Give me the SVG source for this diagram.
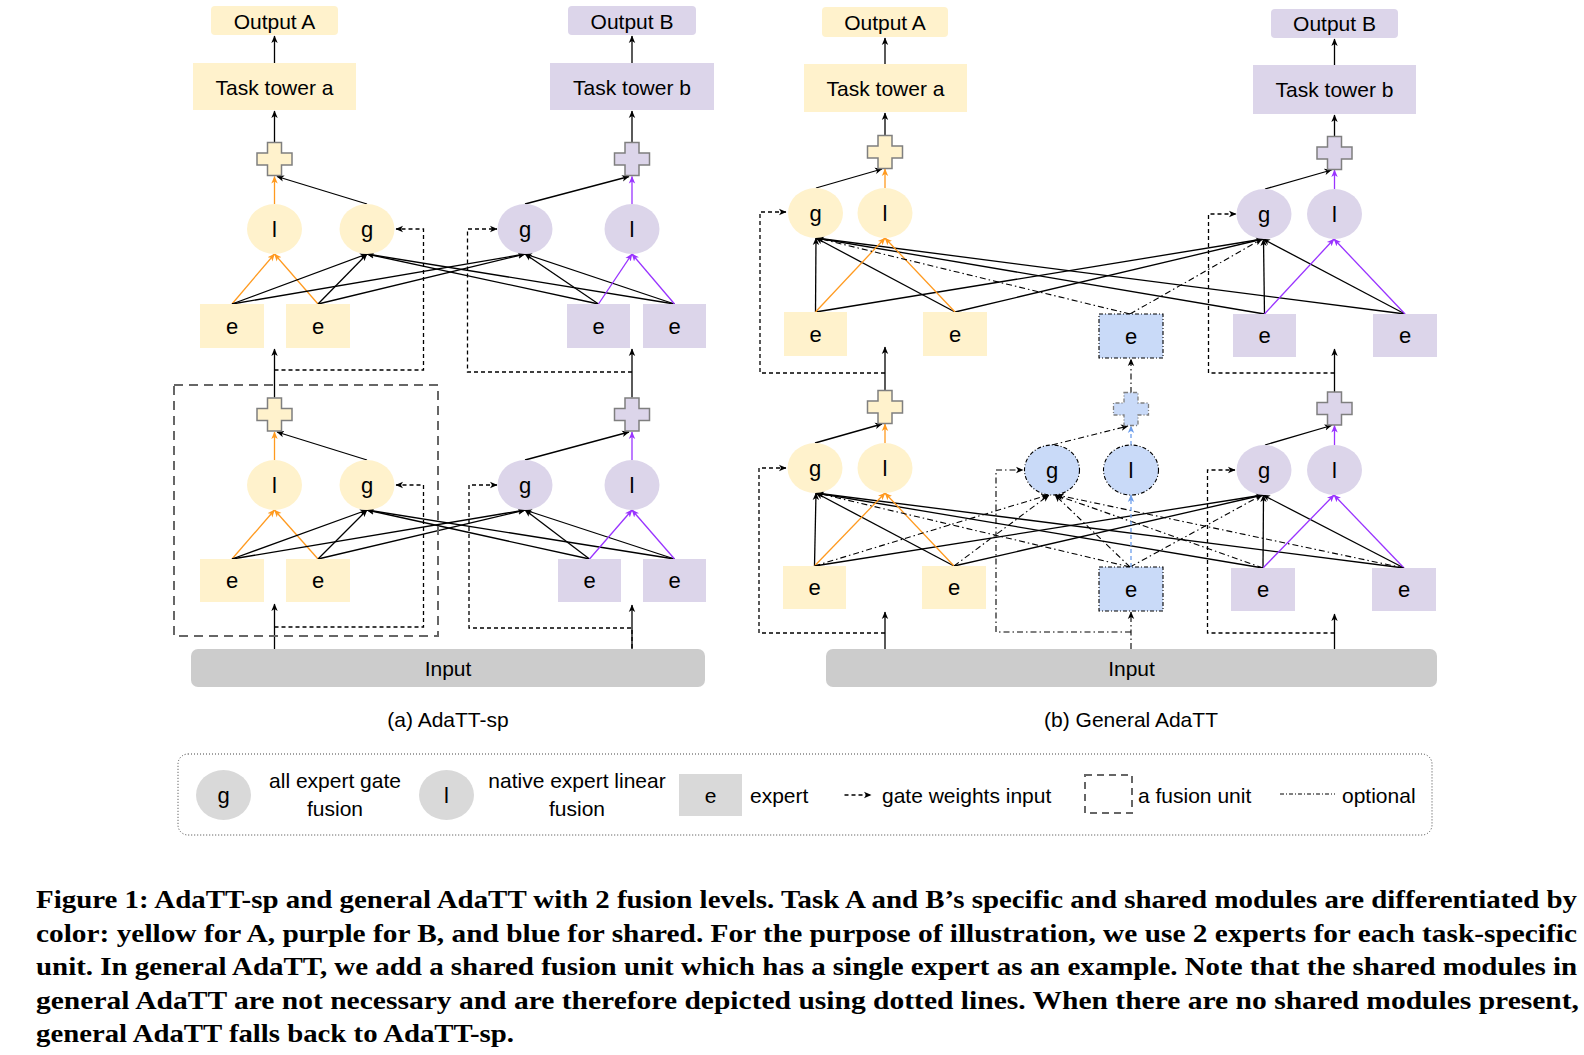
<svg xmlns="http://www.w3.org/2000/svg" xmlns:xlink="http://www.w3.org/1999/xlink" width="1584" height="1055" viewBox="0 0 1584 1055">
<defs>
<style>
.y{fill:#fff2cc}.p{fill:#dcd5ea}.b{fill:#c9daf8}.gi{fill:#cccccc}.lg{fill:#d9d9d9}
.pl{stroke:#7f7f7f;stroke-width:1.5}
.pls{stroke:#7f7f7f;stroke-width:1.3;stroke-dasharray:4 2 1 2}
.sd{stroke:#000;stroke-width:1.1;stroke-dasharray:4 2 1 2}
.t{font-family:"Liberation Sans",Arial,sans-serif;font-size:21px;fill:#000;text-anchor:middle;dominant-baseline:central}
.ts{font-family:"Liberation Sans",Arial,sans-serif;font-size:21px;fill:#000;text-anchor:start;dominant-baseline:central}
.tb{font-family:"Liberation Sans",Arial,sans-serif;font-size:22px;fill:#000;text-anchor:middle;dominant-baseline:central}
.cap{font-family:"Liberation Serif","Times New Roman",serif;font-size:25px;font-weight:bold;fill:#000}
#conn path{fill:none}
.k{stroke:#000;stroke-width:1.3;marker-end:url(#ak)}
.o{stroke:#ff9a1f;stroke-width:1.3;marker-end:url(#ao)}
.v{stroke:#9933ff;stroke-width:1.3;marker-end:url(#av)}
.d{stroke:#000;stroke-width:1.3;stroke-dasharray:4 3;marker-end:url(#ak)}
.dd{stroke:#000;stroke-width:1.1;stroke-dasharray:6 3 1.5 3;marker-end:url(#ak)}
.bd{stroke:#6d9eeb;stroke-width:1.3;stroke-dasharray:4 3;marker-end:url(#ab)}
</style>
<marker id="ak" viewBox="0 0 8 8" refX="7" refY="4" markerWidth="8" markerHeight="8" markerUnits="userSpaceOnUse" orient="auto"><path d="M0,0.8 L7.5,4 L0,7.2 L2,4 z" fill="#000"/></marker>
<marker id="ao" viewBox="0 0 8 8" refX="7" refY="4" markerWidth="8" markerHeight="8" markerUnits="userSpaceOnUse" orient="auto"><path d="M0,0.8 L7.5,4 L0,7.2 L2,4 z" fill="#ff9a1f"/></marker>
<marker id="av" viewBox="0 0 8 8" refX="7" refY="4" markerWidth="8" markerHeight="8" markerUnits="userSpaceOnUse" orient="auto"><path d="M0,0.8 L7.5,4 L0,7.2 L2,4 z" fill="#9933ff"/></marker>
<marker id="ab" viewBox="0 0 8 8" refX="7" refY="4" markerWidth="8" markerHeight="8" markerUnits="userSpaceOnUse" orient="auto"><path d="M0,0.8 L7.5,4 L0,7.2 L2,4 z" fill="#6d9eeb"/></marker>
<path id="plus" d="M-7,-16.5 H7 V-6 H17.5 V6 H7 V16.5 H-7 V6 H-17.5 V-6 H-7 Z"/>
</defs>
<rect width="1584" height="1055" fill="#fff"/>

<!-- ===== connectors ===== -->
<g id="conn">
<!-- panel a, upper level -->
<path class="k" d="M274.5,63 V36"/>
<path class="k" d="M274.5,142.5 V111"/>
<path class="o" d="M274.5,204 V176.5"/>
<path class="k" d="M367,204 L277,176.5"/>
<path class="o" d="M232,304 L274.5,254"/>
<path class="o" d="M318,304 L274.5,254"/>
<path class="k" d="M232,304 L367,254"/>
<path class="k" d="M318,304 L367,254"/>
<path class="k" d="M232,304 L525,254"/>
<path class="k" d="M318,304 L525,254"/>
<path class="k" d="M598.5,304 L525,254"/>
<path class="k" d="M674.5,304 L525,254"/>
<path class="k" d="M598.5,304 L367,254"/>
<path class="k" d="M674.5,304 L367,254"/>
<path class="v" d="M598.5,304 L632,254"/>
<path class="v" d="M674.5,304 L632,254"/>
<path class="k" d="M525,204 L629,176.5"/>
<path class="v" d="M632,204 V176.5"/>
<path class="k" d="M632,142.5 V111"/>
<path class="k" d="M632,63 V36"/>
<!-- panel a, between levels -->
<path class="k" d="M274.5,397.5 V349"/>
<path class="k" d="M632,397.5 V349"/>
<path class="d" d="M274.5,370 H423.5 V229 H396"/>
<path class="d" d="M632,372 H467.5 V229 H497"/>
<!-- panel a, lower level -->
<path class="o" d="M274.5,460 V432"/>
<path class="k" d="M367,460 L277,432"/>
<path class="o" d="M232,559 L274.5,510"/>
<path class="o" d="M318,559 L274.5,510"/>
<path class="k" d="M232,559 L367,510"/>
<path class="k" d="M318,559 L367,510"/>
<path class="k" d="M232,559 L525,510"/>
<path class="k" d="M318,559 L525,510"/>
<path class="k" d="M589.5,559 L525,510"/>
<path class="k" d="M674.5,559 L525,510"/>
<path class="k" d="M589.5,559 L367,510"/>
<path class="k" d="M674.5,559 L367,510"/>
<path class="v" d="M589.5,559 L632,510"/>
<path class="v" d="M674.5,559 L632,510"/>
<path class="k" d="M525,460 L629,432"/>
<path class="v" d="M632,460 V432"/>
<path class="k" d="M274.5,649 V604"/>
<path class="k" d="M632,649 V605"/>
<path class="d" d="M274.5,627 H423.5 V485 H396"/>
<path class="d" d="M632,648 V628 H469 V485 H497"/>

<!-- panel b, upper level -->
<path class="k" d="M885,64 V38"/>
<path class="k" d="M885,135.5 V113"/>
<path class="k" d="M816,188 L882,169"/>
<path class="o" d="M885,188 V169"/>
<path class="k" d="M1334.5,65 V39"/>
<path class="k" d="M1334.5,136.5 V115"/>
<path class="k" d="M1265,189 L1331.5,170"/>
<path class="v" d="M1334.5,189 V170"/>
<path class="k" d="M815.5,312 L816,238"/>
<path class="k" d="M955,312 L816,238"/>
<path class="k" d="M815.5,312 L1263,239"/>
<path class="k" d="M955,312 L1263,239"/>
<path class="k" d="M1264.5,314 L1263.5,239"/>
<path class="k" d="M1405,314 L1263,239"/>
<path class="k" d="M1264.5,314 L816,238"/>
<path class="k" d="M1405,314 L816,238"/>
<path class="o" d="M815.5,312 L885,238"/>
<path class="o" d="M955,312 L885,238"/>
<path class="v" d="M1264.5,314 L1334,239"/>
<path class="v" d="M1405,314 L1334,239"/>
<path class="dd" d="M1130,314 L817,238"/>
<path class="dd" d="M1130,314 L1262,239"/>
<!-- panel b, between levels -->
<path class="k" d="M885,391 V347"/>
<path class="dd" d="M1131,393 V359"/>
<path class="k" d="M1334.5,392 V349"/>
<path class="d" d="M885,373 H760 V212 H786"/>
<path class="d" d="M1334.5,373 H1208.5 V214 H1236"/>
<!-- panel b, lower level -->
<path class="k" d="M815,443 L882,424"/>
<path class="o" d="M885,443 V424"/>
<path class="dd" d="M1052,445 L1128,426"/>
<path class="bd" d="M1131,445 V426"/>
<path class="k" d="M1265,445 L1331.5,425.5"/>
<path class="v" d="M1334.5,445 V425.5"/>
<path class="k" d="M814.5,566 L816,493"/>
<path class="k" d="M954,566 L816,493"/>
<path class="k" d="M814.5,566 L1263,495"/>
<path class="k" d="M954,566 L1263,495"/>
<path class="k" d="M1263,568 L1263.5,495"/>
<path class="k" d="M1404,568 L1263,495"/>
<path class="k" d="M1263,568 L816,493"/>
<path class="k" d="M1404,568 L816,493"/>
<path class="o" d="M814.5,566 L885,493"/>
<path class="o" d="M954,566 L885,493"/>
<path class="v" d="M1263,568 L1334,495"/>
<path class="v" d="M1404,568 L1334,495"/>
<path class="dd" d="M814.5,566 L1048,495"/>
<path class="dd" d="M954,566 L1049,495"/>
<path class="dd" d="M1130,567 L817,493"/>
<path class="dd" d="M1130,567 L1055,495"/>
<path class="dd" d="M1130,567 L1262,495"/>
<path class="dd" d="M1263,568 L1056,495"/>
<path class="dd" d="M1404,568 L1057,495"/>
<path class="bd" d="M1131,567 V495"/>
<path class="k" d="M885,649 V612"/>
<path class="dd" d="M1131,649 V612"/>
<path class="k" d="M1334.5,649 V614"/>
<path class="d" d="M885,633 H759 V468 H786"/>
<path class="dd" d="M1131,632 H996 V470 H1023"/>
<path class="d" d="M1334.5,633 H1207.5 V470 H1235"/>
</g>

<!-- ===== panel a nodes ===== -->
<g id="a-outA"><rect class="y" x="211" y="6" width="127" height="29" rx="4"/><text class="t" x="274.5" y="21">Output A</text></g>
<g id="a-towerA"><rect class="y" x="193" y="63" width="163" height="47"/><text class="t" x="274.5" y="87">Task tower a</text></g>
<g id="a-plusA1"><use xlink:href="#plus" class="y pl" transform="translate(274.5,159)"/></g>
<g id="a-lA1"><ellipse class="y" cx="274.5" cy="229" rx="27.5" ry="25"/><text class="tb" x="274.5" y="229">l</text></g>
<g id="a-gA1"><ellipse class="y" cx="367" cy="229" rx="27.5" ry="25"/><text class="tb" x="367" y="229">g</text></g>
<g id="a-gB1"><ellipse class="p" cx="525" cy="229" rx="27.5" ry="25"/><text class="tb" x="525" y="229">g</text></g>
<g id="a-lB1"><ellipse class="p" cx="632" cy="229" rx="27.5" ry="25"/><text class="tb" x="632" y="229">l</text></g>
<g id="a-plusB1"><use xlink:href="#plus" class="p pl" transform="translate(632,159)"/></g>
<g id="a-towerB"><rect class="p" x="550" y="63" width="164" height="47"/><text class="t" x="632" y="87">Task tower b</text></g>
<g id="a-outB"><rect class="p" x="568" y="6" width="128" height="29" rx="4"/><text class="t" x="632" y="21">Output B</text></g>
<g id="a-eA1u"><rect class="y" x="200" y="304" width="64" height="44"/><text class="tb" x="232" y="326">e</text></g>
<g id="a-eA2u"><rect class="y" x="286" y="304" width="64" height="44"/><text class="tb" x="318" y="326">e</text></g>
<g id="a-eB1u"><rect class="p" x="567" y="304" width="63" height="44"/><text class="tb" x="598.5" y="326">e</text></g>
<g id="a-eB2u"><rect class="p" x="643" y="304" width="63" height="44"/><text class="tb" x="674.5" y="326">e</text></g>
<g id="a-fusion"><rect x="174" y="385" width="264" height="251" fill="none" stroke="#666" stroke-width="2" stroke-dasharray="9 6"/></g>
<g id="a-plusA2"><use xlink:href="#plus" class="y pl" transform="translate(274.5,414.5)"/></g>
<g id="a-lA2"><ellipse class="y" cx="274.5" cy="485" rx="27.5" ry="25"/><text class="tb" x="274.5" y="485">l</text></g>
<g id="a-gA2"><ellipse class="y" cx="367" cy="485" rx="27.5" ry="25"/><text class="tb" x="367" y="485">g</text></g>
<g id="a-gB2"><ellipse class="p" cx="525" cy="485" rx="27.5" ry="25"/><text class="tb" x="525" y="485">g</text></g>
<g id="a-lB2"><ellipse class="p" cx="632" cy="485" rx="27.5" ry="25"/><text class="tb" x="632" y="485">l</text></g>
<g id="a-plusB2"><use xlink:href="#plus" class="p pl" transform="translate(632,414.5)"/></g>
<g id="a-eA1l"><rect class="y" x="200" y="559" width="64" height="43"/><text class="tb" x="232" y="580.5">e</text></g>
<g id="a-eA2l"><rect class="y" x="286" y="559" width="64" height="43"/><text class="tb" x="318" y="580.5">e</text></g>
<g id="a-eB1l"><rect class="p" x="558" y="559" width="63" height="43"/><text class="tb" x="589.5" y="580.5">e</text></g>
<g id="a-eB2l"><rect class="p" x="643" y="559" width="63" height="43"/><text class="tb" x="674.5" y="580.5">e</text></g>
<g id="a-input"><rect class="gi" x="191" y="649" width="514" height="38" rx="7"/><text class="t" x="448" y="668">Input</text></g>
<g id="a-caption"><text class="t" x="448" y="719">(a) AdaTT-sp</text></g>

<!-- ===== panel b nodes ===== -->
<g id="b-outA"><rect class="y" x="822" y="7" width="126" height="30" rx="4"/><text class="t" x="885" y="22">Output A</text></g>
<g id="b-towerA"><rect class="y" x="804" y="64" width="163" height="48"/><text class="t" x="885.5" y="88">Task tower a</text></g>
<g id="b-plusA1"><use xlink:href="#plus" class="y pl" transform="translate(885,152)"/></g>
<g id="b-gA1"><ellipse class="y" cx="815.5" cy="213" rx="27.5" ry="25"/><text class="tb" x="815.5" y="213">g</text></g>
<g id="b-lA1"><ellipse class="y" cx="885" cy="213" rx="27.5" ry="25"/><text class="tb" x="885" y="213">l</text></g>
<g id="b-outB"><rect class="p" x="1271" y="9" width="127" height="29" rx="4"/><text class="t" x="1334.5" y="23.5">Output B</text></g>
<g id="b-towerB"><rect class="p" x="1253" y="65" width="163" height="49"/><text class="t" x="1334.5" y="89.5">Task tower b</text></g>
<g id="b-plusB1"><use xlink:href="#plus" class="p pl" transform="translate(1334.5,153)"/></g>
<g id="b-gB1"><ellipse class="p" cx="1264" cy="214" rx="27.5" ry="25"/><text class="tb" x="1264" y="214">g</text></g>
<g id="b-lB1"><ellipse class="p" cx="1334.5" cy="214" rx="27.5" ry="25"/><text class="tb" x="1334.5" y="214">l</text></g>
<g id="b-eA1u"><rect class="y" x="784" y="312" width="63" height="44"/><text class="tb" x="815.5" y="334">e</text></g>
<g id="b-eA2u"><rect class="y" x="923" y="312" width="64" height="44"/><text class="tb" x="955" y="334">e</text></g>
<g id="b-eSu"><rect class="b sd" x="1099" y="314" width="64" height="44"/><text class="tb" x="1131" y="336">e</text></g>
<g id="b-eB1u"><rect class="p" x="1233" y="314" width="63" height="43"/><text class="tb" x="1264.5" y="335.5">e</text></g>
<g id="b-eB2u"><rect class="p" x="1373" y="314" width="64" height="43"/><text class="tb" x="1405" y="335.5">e</text></g>
<g id="b-plusA2"><use xlink:href="#plus" class="y pl" transform="translate(885,407)"/></g>
<g id="b-plusS"><use xlink:href="#plus" class="b pls" transform="translate(1131,409)"/></g>
<g id="b-plusB2"><use xlink:href="#plus" class="p pl" transform="translate(1334.5,408.5)"/></g>
<g id="b-gA2"><ellipse class="y" cx="815" cy="468" rx="27.5" ry="25"/><text class="tb" x="815" y="468">g</text></g>
<g id="b-lA2"><ellipse class="y" cx="885" cy="468" rx="27.5" ry="25"/><text class="tb" x="885" y="468">l</text></g>
<g id="b-gS"><ellipse class="b sd" cx="1052" cy="470" rx="27.5" ry="25"/><text class="tb" x="1052" y="470">g</text></g>
<g id="b-lS"><ellipse class="b sd" cx="1131" cy="470" rx="27.5" ry="25"/><text class="tb" x="1131" y="470">l</text></g>
<g id="b-gB2"><ellipse class="p" cx="1264" cy="470" rx="27.5" ry="25"/><text class="tb" x="1264" y="470">g</text></g>
<g id="b-lB2"><ellipse class="p" cx="1334.5" cy="470" rx="27.5" ry="25"/><text class="tb" x="1334.5" y="470">l</text></g>
<g id="b-eA1l"><rect class="y" x="783" y="566" width="63" height="43"/><text class="tb" x="814.5" y="587.5">e</text></g>
<g id="b-eA2l"><rect class="y" x="922" y="566" width="64" height="43"/><text class="tb" x="954" y="587.5">e</text></g>
<g id="b-eSl"><rect class="b sd" x="1099" y="567" width="64" height="44"/><text class="tb" x="1131" y="589">e</text></g>
<g id="b-eB1l"><rect class="p" x="1231" y="568" width="64" height="43"/><text class="tb" x="1263" y="589.5">e</text></g>
<g id="b-eB2l"><rect class="p" x="1372" y="568" width="64" height="43"/><text class="tb" x="1404" y="589.5">e</text></g>
<g id="b-input"><rect class="gi" x="826" y="649" width="611" height="38" rx="7"/><text class="t" x="1131.5" y="668">Input</text></g>
<g id="b-caption"><text class="t" x="1131" y="719">(b) General AdaTT</text></g>

<!-- ===== legend ===== -->
<g id="legend">
<rect x="178" y="754" width="1254" height="81" rx="10" fill="none" stroke="#444" stroke-width="1" stroke-dasharray="1 2"/>
<ellipse class="lg" cx="223.5" cy="795" rx="27.5" ry="25"/><text class="tb" x="223.5" y="795">g</text>
<text class="t" x="335" y="780">all expert gate</text><text class="t" x="335" y="808">fusion</text>
<ellipse class="lg" cx="446.5" cy="795" rx="27.5" ry="25"/><text class="tb" x="446.5" y="795">l</text>
<text class="t" x="577" y="780">native expert linear</text><text class="t" x="577" y="808">fusion</text>
<rect class="lg" x="679" y="774" width="63" height="42"/><text class="t" x="710.5" y="795">e</text>
<text class="ts" x="750" y="795">expert</text>
<path d="M844.5,795 H871" fill="none" stroke="#000" stroke-width="1.3" stroke-dasharray="4 3" marker-end="url(#ak)"/>
<text class="ts" x="882" y="795">gate weights input</text>
<rect x="1085" y="775" width="47" height="38" fill="none" stroke="#666" stroke-width="2" stroke-dasharray="7 5"/>
<text class="ts" x="1138" y="795">a fusion unit</text>
<path d="M1280,794 H1335" fill="none" stroke="#000" stroke-width="1" stroke-dasharray="4 2 1 2"/>
<text class="ts" x="1342" y="795">optional</text>
</g>

<!-- ===== figure caption ===== -->
<g id="figcaption">
<text class="cap" x="36" y="908" textLength="1541" lengthAdjust="spacingAndGlyphs">Figure 1: AdaTT-sp and general AdaTT with 2 fusion levels. Task A and B’s specific and shared modules are differentiated by</text>
<text class="cap" x="36" y="941.5" textLength="1541" lengthAdjust="spacingAndGlyphs">color: yellow for A, purple for B, and blue for shared. For the purpose of illustration, we use 2 experts for each task-specific</text>
<text class="cap" x="36" y="975" textLength="1541" lengthAdjust="spacingAndGlyphs">unit. In general AdaTT, we add a shared fusion unit which has a single expert as an example. Note that the shared modules in</text>
<text class="cap" x="36" y="1008.5" textLength="1543" lengthAdjust="spacingAndGlyphs">general AdaTT are not necessary and are therefore depicted using dotted lines. When there are no shared modules present,</text>
<text class="cap" x="36" y="1042" textLength="478" lengthAdjust="spacingAndGlyphs">general AdaTT falls back to AdaTT-sp.</text>
</g>
</svg>
